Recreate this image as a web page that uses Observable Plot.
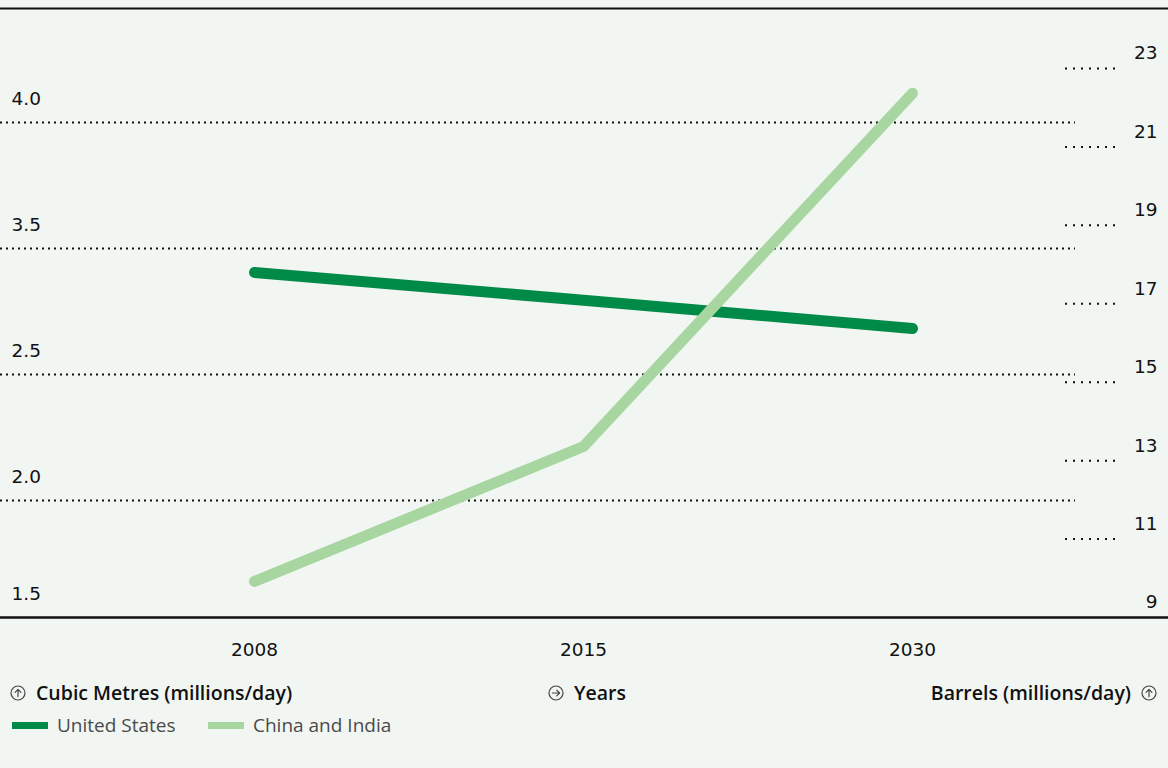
<!DOCTYPE html>
<html>
<head>
<meta charset="utf-8">
<script src="https://cdn.jsdelivr.net/npm/d3@7"></script>
<script src="https://cdn.jsdelivr.net/npm/@observablehq/plot@0.6"></script>
<style>
  html, body { margin: 0; padding: 0; background: #f2f6f3; }
  body { width: 1168px; height: 768px; overflow: hidden; font-family: "Open Sans", sans-serif; color: #111; }
  #chart svg { display: block; }
  #below { position: relative; width: 1168px; height: 96px; }
  .axt { position: absolute; top: 9px; font-size: 19.5px; font-weight: 600; display: flex; align-items: center; gap: 10px; white-space: nowrap; line-height: 24px; color: #111; }
  .leg { position: absolute; top: 41px; font-size: 19px; color: #4a4a4a; display: flex; align-items: center; white-space: nowrap; line-height: 24px; }
  .sw { display: inline-block; width: 36px; height: 7px; margin-right: 9px; }
</style>
</head>
<body>
<div id="chart"></div>
<div id="below"></div>
<script>
// ---- data ----
const years = [2008, 2015, 2030];
const unitedStates = [17.80, 17.09, 16.37];     // million barrels/day
const chinaAndIndia = [9.92, 13.36, 22.37];     // million barrels/day
const seriesNames = ["United States", "China and India"];
const seriesColors = ["#008a47", "#a8d6a0"];
const rightTicks = [9, 11, 13, 15, 17, 19, 21, 23];
const leftTickLabels = ["1.5", "2.0", "2.5", "3.5", "4.0"];
const axisTitles = ["Cubic Metres (millions/day)", "Years", "Barrels (millions/day)"];

// ---- build ----
const yMin = 9, yMax = 24.53;
const leftBase = 8.77, leftStep = 3.213;   // left-axis grid spacing expressed in barrels
const rows = [];
years.forEach((yr, i) => {
  rows.push({year: yr, value: unitedStates[i], series: seriesNames[0]});
  rows.push({year: yr, value: chinaAndIndia[i], series: seriesNames[1]});
});
const leftIdx = leftTickLabels.map((_, i) => i);
const leftPos = i => Math.max(yMin, leftBase + i * leftStep);
const numFont = "'DejaVu Sans', sans-serif";

const chart = Plot.plot({
  width: 1168,
  height: 672,
  marginTop: 8,
  marginBottom: 55,
  marginLeft: 0,
  marginRight: 0,
  style: {background: "transparent", fontFamily: numFont, fontSize: "18.5px", color: "#111"},
  x: {type: "point", domain: years, range: [254, 912], padding: 0, label: null, tickSize: 0, tickPadding: 25, tickFormat: d => String(d)},
  y: {domain: [yMin, yMax], axis: null},
  color: {domain: seriesNames, range: seriesColors},
  marks: [
    Plot.ruleY(leftIdx.filter(i => i > 0), {y: leftPos, insetRight: 93, stroke: "#111", strokeWidth: 2, strokeDasharray: "2,4"}),
    Plot.ruleY(rightTicks.filter(d => d > yMin), {y: d => d, insetLeft: 1065, insetRight: 48, stroke: "#111", strokeWidth: 2, strokeDasharray: "2,6"}),
    Plot.text(leftIdx, {y: leftPos, text: i => leftTickLabels[i], frameAnchor: "left", dx: 11, dy: -23, textAnchor: "start", fill: "#111", fontSize: 18.5}),
    Plot.text(rightTicks, {y: d => d, text: d => String(d), frameAnchor: "right", dx: -11, dy: -15, textAnchor: "end", fill: "#111", fontSize: 18.5}),
    Plot.ruleY([yMax], {stroke: "#111", strokeWidth: 2}),
    Plot.ruleY([yMin], {stroke: "#111", strokeWidth: 2.5}),
    Plot.line(rows, {x: "year", y: "value", z: "series", stroke: "series", strokeWidth: 11, strokeLinecap: "round", strokeLinejoin: "round"})
  ]
});
document.getElementById("chart").appendChild(chart);

// ---- axis titles and legend ----
const icon = dir => {
  const p = dir === "up"
    ? "M8 11.6 V4.4 M5.1 7.3 L8 4.4 L10.9 7.3"
    : "M4.4 8 H11.6 M8.7 5.1 L11.6 8 L8.7 10.9";
  return `<svg width="16" height="16" viewBox="0 0 16 16"><circle cx="8" cy="8" r="7" fill="none" stroke="#444" stroke-width="1.2"/><path d="${p}" fill="none" stroke="#444" stroke-width="1.2" stroke-linecap="round" stroke-linejoin="round"/></svg>`;
};
const below = document.getElementById("below");
below.innerHTML = `
  <div class="axt" style="left:10px">${icon("up")}<span>${axisTitles[0]}</span></div>
  <div class="axt" style="left:548px">${icon("right")}<span>${axisTitles[1]}</span></div>
  <div class="axt" style="right:11px"><span>${axisTitles[2]}</span>${icon("up")}</div>
  <div class="leg" style="left:12px"><span class="sw" style="background:${seriesColors[0]}"></span>${seriesNames[0]}</div>
  <div class="leg" style="left:208px"><span class="sw" style="background:${seriesColors[1]}"></span>${seriesNames[1]}</div>
`;
</script>
</body>
</html>
